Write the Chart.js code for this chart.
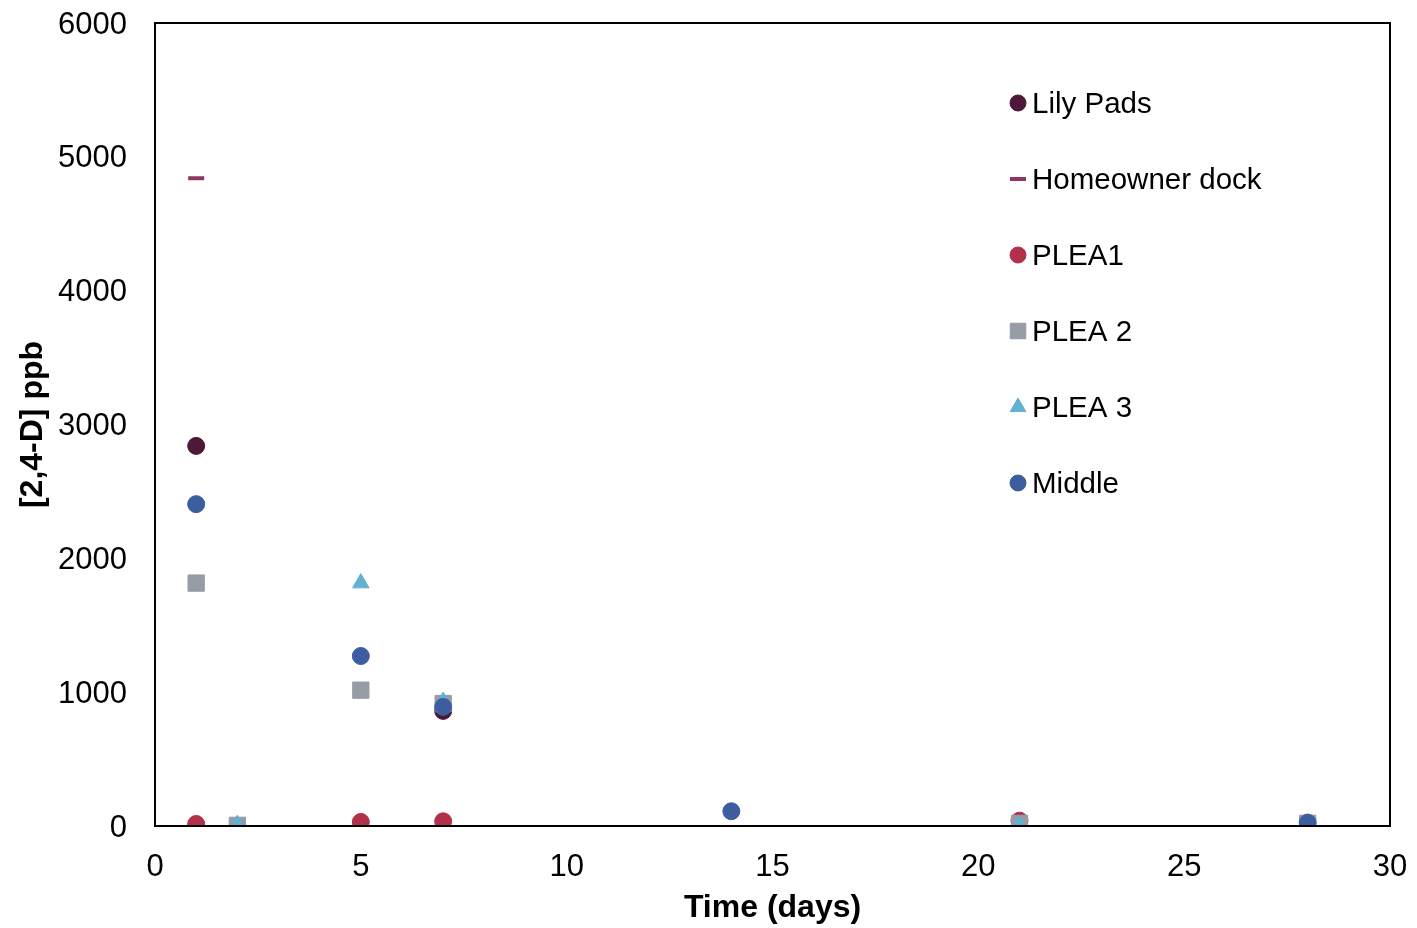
<!DOCTYPE html>
<html>
<head>
<meta charset="utf-8">
<script src="https://cdn.jsdelivr.net/npm/chart.js@4.4.0/dist/chart.umd.min.js"></script>
<style>
  html, body { margin: 0; padding: 0; background: #fff; }
  #wrap { width: 1417px; height: 928px; }
</style>
</head>
<body>
<div id="wrap"><canvas id="chart" width="1417" height="928"></canvas></div>
<script>
// sampling days and [2,4-D] readings (ppb), null = not shown
const days          = [1,    2,    5,    7,    14,   21,   28];
const lilyPads      = [2840, null, null, 860,  null, null, null];
const homeownerDock = [4840, null, null, null, null, null, null];
const plea1         = [15,   null, 30,   35,   null, 40,   null];
const plea2         = [1815, 5,    1015, 915,  null, 20,   20];
const plea3         = [null, 10,   1815, 930,  null, 5,    20];
const middle        = [2405, null, 1270, 890,  110,  null, 25];

const xTicks = [0, 5, 10, 15, 20, 25, 30];
const yTicks = [0, 1000, 2000, 3000, 4000, 5000, 6000];

const FONT = "'Liberation Sans', Arial, sans-serif";

const toPoints = vals => days.map((d, i) => ({ x: d, y: vals[i] })).filter(p => p.y !== null);

const series = [
    { label: 'Lily Pads',      vals: lilyPads,      color: '#4e1838', style: 'circle',   r: 8.5 },
    { label: 'Homeowner dock', vals: homeownerDock, color: '#8e3566', style: 'line',     r: 8,  bw: 4 },
    { label: 'PLEA1',          vals: plea1,         color: '#b3304b', style: 'circle',   r: 8.5 },
    { label: 'PLEA 2',         vals: plea2,         color: '#959ca6', style: 'rect',     r: 11.5 },
    { label: 'PLEA 3',         vals: plea3,         color: '#62b1d0', style: 'triangle', r: 9.5 },
    { label: 'Middle',         vals: middle,        color: '#3d5e9e', style: 'circle',   r: 8.5 }
];

// box around the plot area
const frame = {
    id: 'frame',
    afterDraw(chart) {
        const { ctx, chartArea: a } = chart;
        ctx.save();
        ctx.strokeStyle = '#000';
        ctx.lineWidth = 2;
        ctx.strokeRect(a.left, a.top, a.right - a.left, a.bottom - a.top);
        ctx.restore();
    }
};

// legend drawn inside the plot, top right
const insideLegend = {
    id: 'insideLegend',
    afterDraw(chart) {
        const ctx = chart.ctx;
        ctx.save();
        ctx.font = '29.5px ' + FONT;
        ctx.textBaseline = 'middle';
        series.forEach((s, i) => {
            const y = 103 + i * 76;
            const x = 1018;
            ctx.fillStyle = s.color;
            ctx.strokeStyle = s.color;
            const r = s.style === 'rect' ? 11 : s.style === 'triangle' ? 9 : 8;
            ctx.lineWidth = s.bw || 1;
            Chart.helpers.drawPoint(ctx, { pointStyle: s.style, radius: r, rotation: 0, borderWidth: s.bw || 1 }, x, y);
            ctx.fillStyle = '#000';
            ctx.fillText(s.label, 1032, y + 1.5);
        });
        ctx.restore();
    }
};

new Chart(document.getElementById('chart'), {
    type: 'scatter',
    data: {
        datasets: series.map((s, i) => ({
            label: s.label,
            data: toPoints(s.vals),
            order: series.length - 1 - i,
            pointStyle: s.style,
            pointRadius: s.r,
            pointHoverRadius: s.r,
            backgroundColor: s.color,
            borderColor: s.color,
            pointBorderWidth: s.bw || 1,
            showLine: false
        }))
    },
    options: {
        responsive: false,
        animation: false,
        layout: { padding: { left: 0, top: 23, right: 27, bottom: 0 } },
        plugins: { legend: { display: false }, tooltip: { enabled: false } },
        scales: {
            x: {
                type: 'linear', min: 0, max: 30,
                afterBuildTicks: sc => { sc.ticks = xTicks.map(v => ({ value: v })); },
                afterFit: sc => { sc.height = 102; sc.paddingLeft = 0; sc.paddingRight = 0; },
                grid: { display: false, drawTicks: false },
                border: { display: false },
                ticks: { color: '#000', padding: 23, callback: v => String(v), font: { family: FONT, size: 31 } },
                title: { display: true, text: 'Time (days)', color: '#000', padding: { top: 4, bottom: 1 },
                         font: { family: FONT, size: 32, weight: 'bold' } }
            },
            y: {
                type: 'linear', min: 0, max: 6000,
                afterBuildTicks: sc => { sc.ticks = yTicks.map(v => ({ value: v })); },
                afterFit: sc => { sc.width = 155; sc.paddingTop = 0; sc.paddingBottom = 0; },
                grid: { display: false, drawTicks: false },
                border: { display: false },
                ticks: { color: '#000', padding: 28, labelOffset: 2, callback: v => String(v), font: { family: FONT, size: 31 } },
                title: { display: true, text: '[2,4-D] ppb', color: '#000', padding: { top: 14, bottom: 0 },
                         font: { family: FONT, size: 32, weight: 'bold' } }
            }
        }
    },
    plugins: [frame, insideLegend]
});
</script>
</body>
</html>
